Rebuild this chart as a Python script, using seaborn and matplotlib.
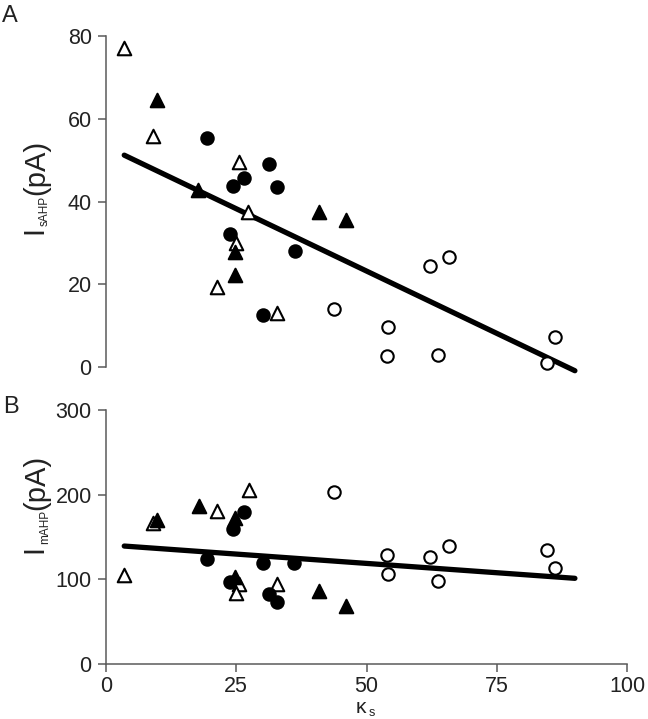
import matplotlib
matplotlib.use("Agg")
import matplotlib.pyplot as plt
import seaborn as sns
import pandas as pd

sns.set_style("ticks")
plt.rcParams['font.family'] = ['Liberation Sans', 'DejaVu Sans']
plt.rcParams['mathtext.default'] = 'regular'

# ---- Panel A data (kappa_s, I_sAHP) ----
a_open_tri_x = [3.5, 9.1, 25.5, 27.2, 25.0, 21.4, 32.8]
a_open_tri_y = [77.0, 55.8, 49.6, 37.5, 29.9, 19.4, 13.1]
a_fill_tri_x = [9.8, 17.7, 40.8, 46.0, 24.8, 24.8]
a_fill_tri_y = [64.5, 42.8, 37.5, 35.5, 27.9, 22.2]
a_fill_circ_x = [19.3, 31.2, 26.5, 24.3, 32.9, 23.8, 36.2, 30.1]
a_fill_circ_y = [55.4, 49.0, 45.6, 43.7, 43.6, 32.1, 28.0, 12.6]
a_open_circ_x = [43.8, 62.2, 65.8, 54.2, 54.0, 63.8, 86.2, 84.6]
a_open_circ_y = [13.9, 24.4, 26.6, 9.6, 2.7, 2.9, 7.2, 1.0]
a_fit_x = [3.5, 90.0]
a_fit_y = [51.2, -0.9]

# ---- Panel B data (kappa_s, I_mAHP) ----
b_open_tri_x = [3.5, 9.1, 21.4, 27.4, 25.6, 25.0, 32.8]
b_open_tri_y = [105, 167, 181, 205, 94.5, 84, 94.5]
b_fill_tri_x = [9.8, 17.9, 24.8, 24.8, 40.8, 46.0]
b_fill_tri_y = [170, 186.5, 172, 103, 86.5, 68.5]
b_fill_circ_x = [26.5, 24.3, 19.3, 30.1, 36.1, 23.8, 31.2, 32.9]
b_fill_circ_y = [180, 159, 123.6, 119.6, 119.6, 97, 83, 73.6]
b_open_circ_x = [43.8, 54.0, 54.2, 62.2, 65.8, 63.8, 84.7, 86.2]
b_open_circ_y = [203, 128.7, 106, 126, 139, 98, 134.6, 113]
b_fit_x = [3.5, 90.0]
b_fit_y = [139.3, 101.2]

x_ticks = [0, 25, 50, 75, 100]
a_yticks = [0, 20, 40, 60, 80]
b_yticks = [0, 100, 200, 300]

W, H = 648, 719
fig = plt.figure(figsize=(W / 100, H / 100), dpi=100)
axA = fig.add_axes([106 / W, (H - 367) / H, 521 / W, 331 / H])
axB = fig.add_axes([106 / W, (H - 664) / H, 521 / W, 254 / H])

GRAY = '#5a5a5a'
TXT = '#222222'

def draw(ax, groups, fx, fy):
    for x, y, marker, face, size in groups:
        df = pd.DataFrame({'x': x, 'y': y})
        sns.scatterplot(data=df, x='x', y='y', ax=ax, marker=marker, s=size,
                        color=face, edgecolor='black', linewidth=1.5,
                        clip_on=False, zorder=3)
    sns.lineplot(x=fx, y=fy, ax=ax, color='black', linewidth=3.8,
                 zorder=2, clip_on=False)

groupsA = [
    (a_open_tri_x, a_open_tri_y, '^', 'white', 95),
    (a_fill_tri_x, a_fill_tri_y, '^', 'black', 95),
    (a_fill_circ_x, a_fill_circ_y, 'o', 'black', 80),
    (a_open_circ_x, a_open_circ_y, 'o', 'white', 80),
]
groupsB = [
    (b_open_tri_x, b_open_tri_y, '^', 'white', 95),
    (b_fill_tri_x, b_fill_tri_y, '^', 'black', 95),
    (b_fill_circ_x, b_fill_circ_y, 'o', 'black', 80),
    (b_open_circ_x, b_open_circ_y, 'o', 'white', 80),
]
draw(axA, groupsA, a_fit_x, a_fit_y)
draw(axB, groupsB, b_fit_x, b_fit_y)

for ax in (axA, axB):
    ax.set_xlim(0, 100)
    ax.spines['top'].set_visible(False)
    ax.spines['right'].set_visible(False)
    ax.spines['left'].set_color(GRAY)
    ax.spines['bottom'].set_color(GRAY)
    ax.spines['left'].set_linewidth(1.1)
    ax.spines['bottom'].set_linewidth(1.1)
    ax.tick_params(axis='both', direction='out', length=5.8, width=1.1,
                   color=GRAY, labelsize=15.5, labelcolor=TXT, pad=4.5)
    ax.set_xlabel('')
    ax.set_ylabel('')

axA.set_ylim(0, 80)
axA.set_yticks(a_yticks)
axA.spines['bottom'].set_visible(False)
axA.set_xticks([])

axB.set_ylim(0, 300)
axB.set_yticks(b_yticks)
axB.set_xticks(x_ticks)
axB.tick_params(axis='x', pad=3)

renderer = fig.canvas.get_renderer()


def ptext(x_px, y_px, s, size, rot=90):
    return fig.text(x_px / W, 1 - y_px / H, s, fontsize=size, color=TXT,
                    rotation=rot, rotation_mode='anchor', ha='left',
                    va='baseline')


def vlabel(start_y, parts, gap=1.0):
    """Lay rotated label pieces one after another, bottom to top."""
    y = start_y
    for s, size, base_x in parts:
        t = ptext(base_x, y, s, size)
        ext = t.get_window_extent(renderer)
        y = H - ext.y1 + 0.0 - gap  # next piece starts above this one
    return


vlabel(234.5, [('I', 21, 42), ('sAHP', 8.5, 48), ('(pA)', 21, 44)], gap=0.5)
vlabel(553, [('I', 21, 42), ('mAHP', 8.5, 48), ('(pA)', 21, 44)], gap=0.5)

# x-axis label: kappa_s
ptext(356, 713, 'κ', 15, rot=0)
ptext(368.5, 715.5, 's', 9, rot=0)

fig.text(2 / W, 1 - 22 / H, 'A', fontsize=17, color=TXT)
fig.text(3 / W, 1 - 413 / H, 'B', fontsize=17, color=TXT)

fig.savefig('out.png', dpi=100)
